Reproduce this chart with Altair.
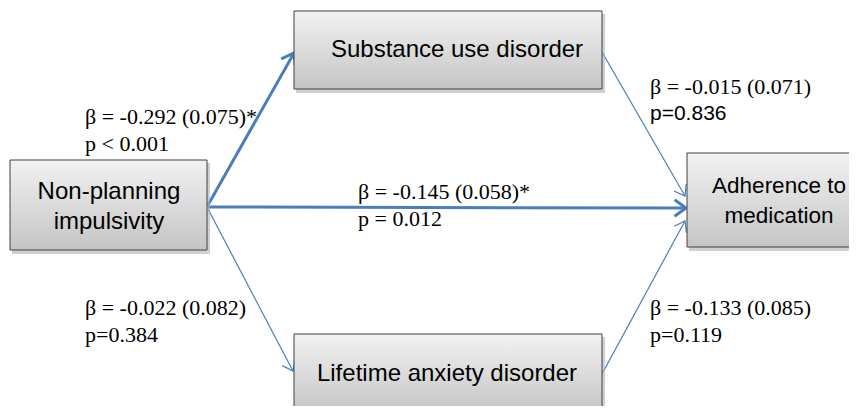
import math
import altair as alt
import pandas as pd

# ---------------- data ----------------
node_ids = ["NP", "SUD", "LAD", "ADH"]
node_text = ["Non-planning\nimpulsivity", "Substance use disorder",
             "Lifetime anxiety disorder", "Adherence to\nmedication"]

edge_from = ["NP", "NP", "SUD", "NP", "LAD"]
edge_to = ["SUD", "ADH", "ADH", "LAD", "ADH"]
edge_significant = [True, True, False, False, False]
beta_text = ["β = -0.292 (0.075)*", "β = -0.145 (0.058)*", "β = -0.015 (0.071)",
             "β = -0.022 (0.082)", "β = -0.133 (0.085)"]
p_text = ["p < 0.001", "p = 0.012", "p=0.836", "p=0.384", "p=0.119"]
p_font = ["Liberation Serif", "Liberation Serif", "Liberation Sans",
          "Liberation Serif", "Liberation Serif"]

# ---------------- layout (page pixels) ----------------
W, H = 841, 398
X0, Y0 = 8, 8
box = {  # x0, y0, x1, y1, text x, first-line text y, font size
    "NP": (10, 160, 207, 250, 109, 192, 24),
    "SUD": (294, 11, 602, 89, 457, 50, 24),
    "LAD": (294, 334, 602, 413, 447, 374, 24),
    "ADH": (687, 153, 870, 247, 779, 186, 22.5),
}
edge_ends = [  # start, tip
    ((208, 205), (294, 53)),
    ((208, 207), (686, 208)),
    ((602, 52), (685, 196)),
    ((208, 209), (293, 371)),
    ((602, 374), (685, 221)),
]
label_pos = [(85, 117), (358, 192), (650, 87), (85, 308), (650, 308)]

BLUE = "#4a7ebb"

nodes = pd.DataFrame({
    "id": node_ids, "text": node_text,
    "x0": [box[n][0] for n in node_ids], "y0": [box[n][1] for n in node_ids],
    "x1": [box[n][2] for n in node_ids], "y1": [box[n][3] for n in node_ids],
    "tx": [box[n][4] for n in node_ids], "ty": [box[n][5] for n in node_ids],
    "fs": [box[n][6] for n in node_ids],
})
nodes["sx0"] = nodes.x0 + 2
nodes["sy0"] = nodes.y0 + 3
nodes["sx1"] = nodes.x1 + 3
nodes["sy1"] = nodes.y1 + 4

rows = []
for i in range(len(edge_from)):
    (sx, sy), (tx, ty) = edge_ends[i]
    ang = math.degrees(math.atan2(ty - sy, tx - sx)) % 360
    sig = edge_significant[i]
    rows.append({
        "sx": sx, "sy": sy, "tx": tx, "ty": ty, "ang": ang,
        "w": 3.0 if sig else 1.2,
        "hs": 520 if sig else 380,
        "beta": beta_text[i], "p": p_text[i], "pfont": p_font[i],
        "lx": label_pos[i][0], "ly": label_pos[i][1], "ly2": label_pos[i][1] + 27,
    })
edges = pd.DataFrame(rows)

xs = alt.Scale(domain=[X0, X0 + W], nice=False, zero=False)
ys = alt.Scale(domain=[Y0, Y0 + H], nice=False, zero=False, reverse=True)

def X(f):
    return alt.X(f, type="quantitative", scale=xs, axis=None)

def Y(f):
    return alt.Y(f, type="quantitative", scale=ys, axis=None)

base_n = alt.Chart(nodes)
base_e = alt.Chart(edges)

shadow = base_n.mark_rect(color="#b0b0b0", opacity=0.6).encode(
    x=X("sx0"), x2="sx1", y=Y("sy0"), y2="sy1")

grad = alt.Gradient(
    gradient="linear",
    stops=[alt.GradientStop(color="#f2f2f2", offset=0),
           alt.GradientStop(color="#c5c5c5", offset=1)],
    x1=0, x2=0, y1=0, y2=1)

boxes = base_n.mark_rect(fill=grad, stroke="#404040", strokeWidth=1).encode(
    x=X("x0"), x2="x1", y=Y("y0"), y2="y1")

box_text = base_n.mark_text(
    font="Liberation Sans", color="black", align="center",
    baseline="middle", lineBreak="\n", lineHeight=30).encode(
    x=X("tx"), y=Y("ty"), text="text:N",
    size=alt.Size("fs:Q", scale=None))

lines = base_e.mark_rule(color=BLUE, strokeCap="butt").encode(
    x=X("sx"), y=Y("sy"), x2="tx", y2="ty",
    strokeWidth=alt.StrokeWidth("w:Q", scale=None))

heads = base_e.mark_point(
    shape="M-1,-0.72L0,0L-1,0.72", filled=False, color=BLUE, opacity=1,
    strokeJoin="miter").encode(
    x=X("tx"), y=Y("ty"),
    angle=alt.Angle("ang:Q", scale=None),
    size=alt.Size("hs:Q", scale=None),
    strokeWidth=alt.StrokeWidth("w:Q", scale=None))

beta_lbl = base_e.mark_text(
    font="Liberation Serif", fontSize=22, color="black", align="left",
    baseline="middle").encode(x=X("lx"), y=Y("ly"), text="beta:N")

p_serif = base_e.transform_filter(alt.datum.pfont == "Liberation Serif").mark_text(
    font="Liberation Serif", fontSize=22, color="black", align="left",
    baseline="middle").encode(x=X("lx"), y=Y("ly2"), text="p:N")
p_sans = base_e.transform_filter(alt.datum.pfont == "Liberation Sans").mark_text(
    font="Liberation Sans", fontSize=21, color="black", align="left",
    baseline="middle").encode(x=X("lx"), y=Y("ly2"), text="p:N")

chart = alt.layer(
    lines, heads, shadow, boxes, box_text, beta_lbl, p_serif, p_sans
).properties(
    width=W, height=H, autosize="none", padding=0, background="white"
).configure_view(stroke=None)

chart.save("out.html", embed_options={"renderer": "svg", "actions": False})
